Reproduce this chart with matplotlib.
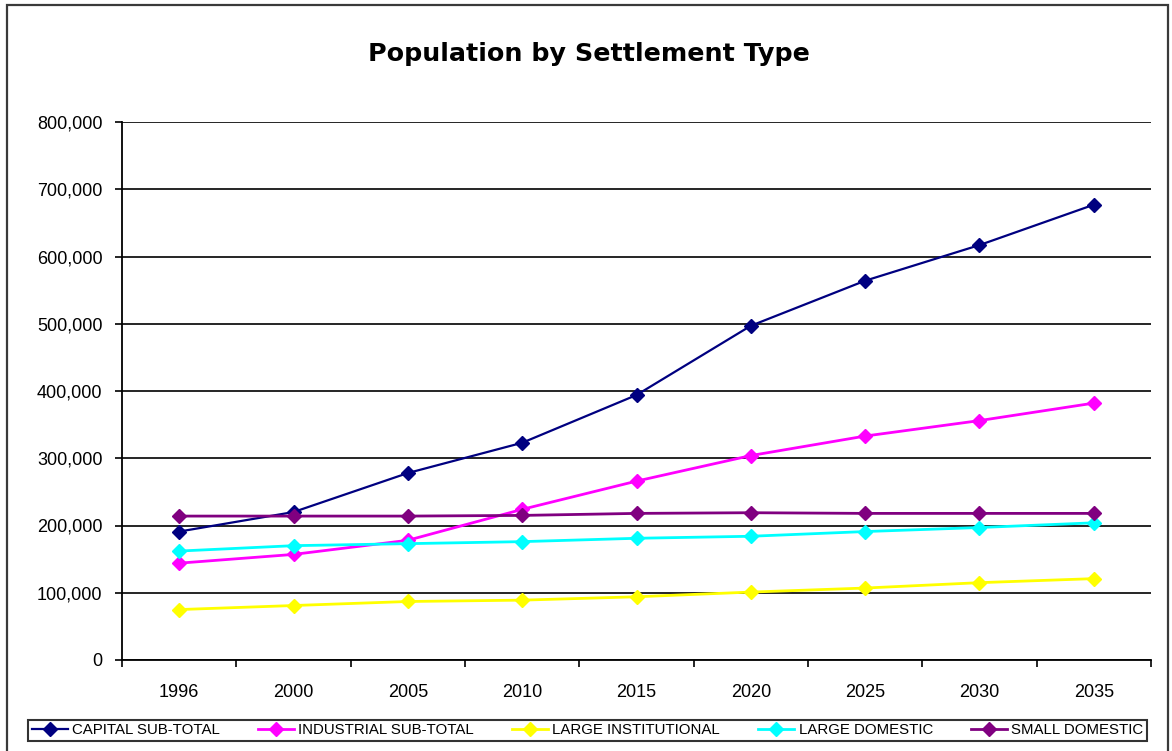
import matplotlib
matplotlib.use("Agg")
import matplotlib.pyplot as plt
from matplotlib.patches import Rectangle
from matplotlib.ticker import FuncFormatter, FixedLocator
import numpy as np

years = ['1996', '2000', '2005', '2010', '2015', '2020', '2025', '2030', '2035']
capital_sub_total = [191000, 220000, 278000, 323000, 394000, 497000, 564000, 617000, 677000]
industrial_sub_total = [144000, 157000, 178000, 224000, 266000, 304000, 333000, 356000, 382000]
large_institutional = [75000, 81000, 87000, 89000, 94000, 101000, 107000, 115000, 121000]
large_domestic = [162000, 170000, 173000, 176000, 181000, 184000, 191000, 197000, 204000]
small_domestic = [214000, 214000, 214000, 215000, 218000, 219000, 218000, 218000, 218000]

series_names = ['CAPITAL SUB-TOTAL', 'INDUSTRIAL SUB-TOTAL', 'LARGE INSTITUTIONAL',
                'LARGE DOMESTIC', 'SMALL DOMESTIC']
series_colors = ['#000080', '#FF00FF', '#FFFF00', '#00FFFF', '#800080']
series_values = [capital_sub_total, industrial_sub_total, large_institutional,
                 large_domestic, small_domestic]

plt.rcParams['font.family'] = ['Liberation Sans', 'DejaVu Sans']

W, H = 1172, 751
fig = plt.figure(figsize=(W / 100, H / 100), dpi=100)
fig.patch.set_facecolor('white')

# outer chart frame
fig.add_artist(Rectangle((7 / W, -0.02), (1168 - 7) / W, 1.02 - 5 / H,
                         transform=fig.transFigure, fill=False,
                         edgecolor='#3a3a3a', linewidth=1.6))

ax = fig.add_axes([122 / W, 91 / H, 1029 / W, 538 / H])
x = np.arange(len(years))

for name, color, vals in zip(series_names, series_colors, series_values):
    lw = 1.6 if color == '#000080' else 2.0
    ax.plot(x, vals, color=color, linewidth=lw, marker='D', markersize=7,
            markerfacecolor=color, markeredgecolor=color, label=name, zorder=3)

ax.set_xlim(-0.5, len(years) - 0.5)
ax.set_ylim(0, 800000)

ax.set_yticks(np.arange(0, 800001, 100000))
ax.yaxis.set_major_formatter(FuncFormatter(lambda v, p: f"{int(v):,}"))
ax.yaxis.grid(True, color='black', linewidth=1.2, zorder=0)
ax.set_axisbelow(True)

ax.set_xticks(x)
ax.set_xticklabels(years)
ax.xaxis.set_minor_locator(FixedLocator(np.arange(-0.5, len(years), 1.0)))
ax.tick_params(axis='x', which='major', length=0, pad=17, labelsize=13)
ax.tick_params(axis='x', which='minor', length=5, width=1.2, direction='out', color='black')
ax.tick_params(axis='y', which='major', length=5, width=1.2, direction='out', pad=9,
               labelsize=13, color='black')

for side in ['top', 'right']:
    ax.spines[side].set_visible(False)
for side in ['left', 'bottom']:
    ax.spines[side].set_color('black')
    ax.spines[side].set_linewidth(1.3)

fig.text(589 / W, 1 - 54 / H, 'Population by Settlement Type', ha='center', va='center',
         fontsize=18.3, fontweight='bold', family=['DejaVu Sans'])

leg = fig.legend(loc='lower left', ncol=5, mode='expand',
                 bbox_to_anchor=(28 / W, 1 - 741 / H, (1147 - 28) / W, 26 / H),
                 fontsize=10.8, frameon=True, fancybox=False, handlelength=2.4,
                 handletextpad=0.3, borderpad=0.25, borderaxespad=0, columnspacing=0.6)
leg.get_frame().set_edgecolor('black')
leg.get_frame().set_linewidth(1.5)

fig.savefig('out.png', dpi=100)
